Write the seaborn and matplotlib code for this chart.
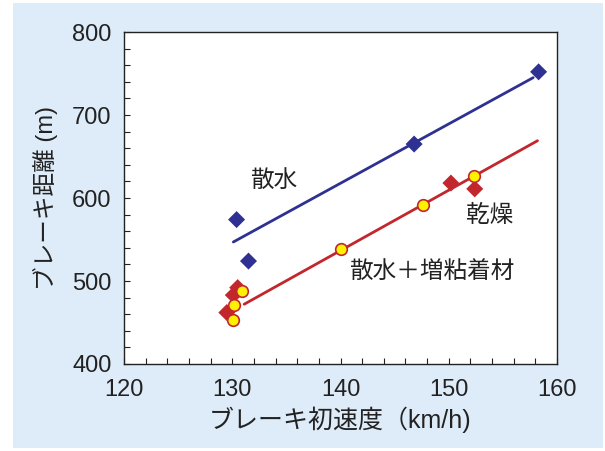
import matplotlib
matplotlib.use("Agg")
import matplotlib.pyplot as plt
from matplotlib.patches import Rectangle
from matplotlib.ticker import MultipleLocator
import seaborn as sns
import pandas as pd

# data
blue_x = [130.4, 131.5, 146.8, 158.3]
blue_y = [574, 524, 665, 752]
red_x = [129.5, 130.1, 130.5, 150.2, 152.4]
red_y = [462, 483, 492, 618, 611]
yel_x = [130.1, 130.2, 130.9, 140.0, 147.6, 152.3]
yel_y = [453, 471, 488, 538, 591, 626]

# fitted lines (end points)
blue_fit_x = [130.1, 157.8]
blue_fit_y = [547, 745]
red_fit_x = [131.1, 158.2]
red_fit_y = [472, 669]

BLUE = "#2e3192"
RED = "#c1272d"
YELLOW = "#fff200"
INK = "#222222"

sns.set_style("ticks")
plt.rcParams['font.family'] = ['Liberation Sans', 'Noto Sans CJK JP', 'DejaVu Sans']

fig = plt.figure(figsize=(6.05, 4.51), dpi=100, facecolor="white")
# light blue panel behind everything
fig.patches.append(Rectangle((13 / 605, 3 / 451), 590 / 605, 445 / 451,
                             transform=fig.transFigure, facecolor="#deebf8",
                             edgecolor="none", zorder=-10))
ax = fig.add_axes([124 / 605, 1 - 364 / 451, 433 / 605, 332 / 451])
ax.set_facecolor("white")

sns.lineplot(x=blue_fit_x, y=blue_fit_y, color=BLUE, lw=2, ax=ax)
sns.lineplot(x=red_fit_x, y=red_fit_y, color=RED, lw=2, ax=ax)

sns.scatterplot(x=blue_x, y=blue_y, marker="D", s=75, color=BLUE,
                edgecolor="none", ax=ax, zorder=3)
sns.scatterplot(x=red_x, y=red_y, marker="D", s=75, color=RED,
                edgecolor="none", ax=ax, zorder=3)
sns.scatterplot(x=yel_x, y=yel_y, marker="o", s=70, color=YELLOW,
                edgecolor=RED, linewidth=1.2, ax=ax, zorder=4)

ax.set_xlim(120, 160)
ax.set_ylim(400, 800)
ax.xaxis.set_major_locator(MultipleLocator(10))
ax.xaxis.set_minor_locator(MultipleLocator(2))
ax.yaxis.set_major_locator(MultipleLocator(100))
ax.yaxis.set_minor_locator(MultipleLocator(20))
ax.tick_params(which="both", direction="in", length=4, width=0.8,
               labelsize=17, colors=INK)
ax.tick_params(axis="x", pad=11)
ax.tick_params(axis="y", pad=9)
for s in ax.spines.values():
    s.set_linewidth(1.0)
    s.set_color(INK)

ax.set_xlabel("ブレーキ初速度（km/h)", fontsize=18, labelpad=4, color=INK)
ax.set_ylabel("ブレーキ距離 (m)", fontsize=17, labelpad=10, color=INK)

ax.text(133.8, 620, "散水", fontsize=17, ha="center", va="center", color=INK)
ax.text(153.8, 578, "乾燥", fontsize=17, ha="center", va="center", color=INK)
ax.text(148.4, 511, "散水＋増粘着材", fontsize=17, ha="center", va="center", color=INK)

fig.savefig("out.png", dpi=100, facecolor=fig.get_facecolor())
